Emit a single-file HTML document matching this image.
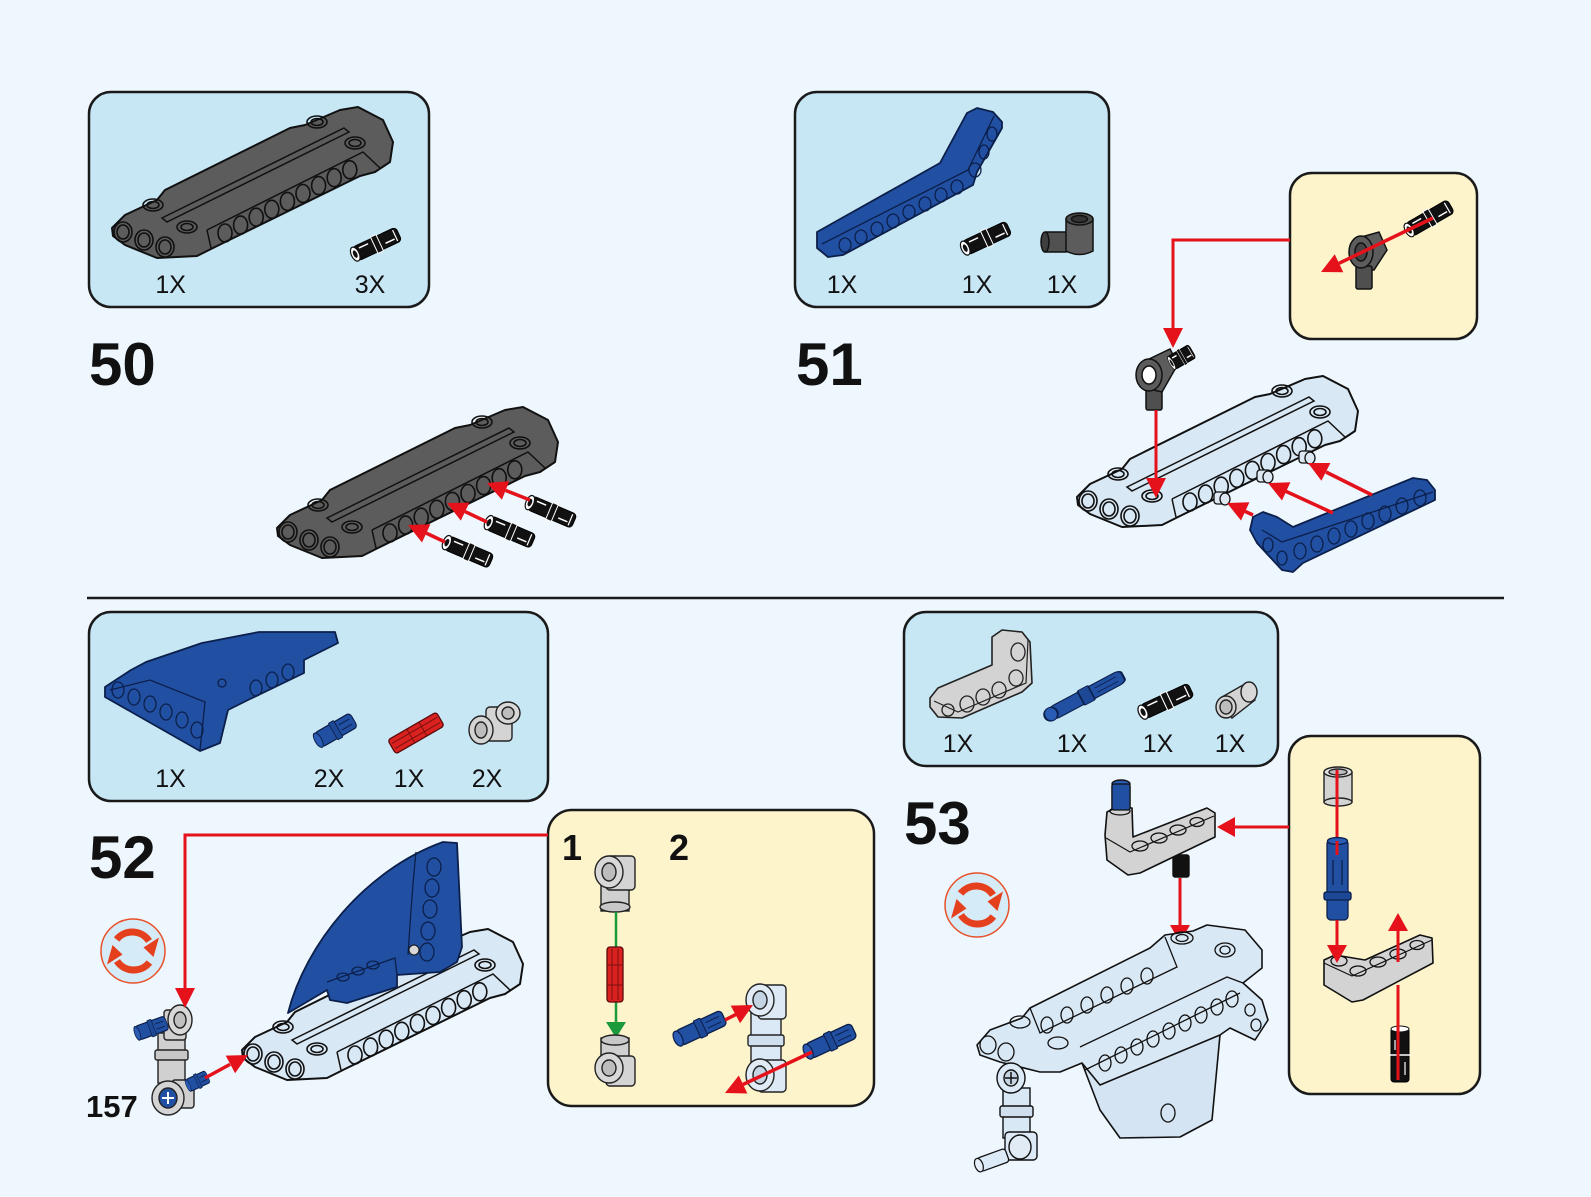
<!DOCTYPE html>
<html><head><meta charset="utf-8"><style>
html,body{margin:0;padding:0;background:#eef7fd;}
svg{display:block;}
text{font-family:"Liberation Sans",Arial,sans-serif;}
</style></head><body>
<svg width="1591" height="1197" viewBox="0 0 1591 1197" xmlns="http://www.w3.org/2000/svg">
<defs>
<g id="panel">
<polygon points="277,528 290,515 322,500 330,490 455,428 470,425 505,410 523,407 548,420 558,442 555,462 540,472 525,476 380,547 362,556 322,558 290,545 278,536" fill="currentColor" stroke="#111" stroke-width="2" stroke-linejoin="round"/>
<polyline points="372,530 528,452 545,468" fill="none" stroke="#111" stroke-width="1.5"/>
<line x1="372" y1="530" x2="376" y2="548" stroke="#111" stroke-width="1.5"/>
<polygon points="327,518 509,428 514,432 332,522" fill="none" stroke="#111" stroke-width="1.5"/>
<g fill="none" stroke="#111" stroke-width="1.6">
<ellipse cx="390" cy="533" rx="7" ry="9"/><ellipse cx="405.6" cy="525.1" rx="7" ry="9"/><ellipse cx="421.2" cy="517.2" rx="7" ry="9"/><ellipse cx="436.8" cy="509.3" rx="7" ry="9"/><ellipse cx="452.4" cy="501.4" rx="7" ry="9"/><ellipse cx="468" cy="493.5" rx="7" ry="9"/><ellipse cx="483.6" cy="485.6" rx="7" ry="9"/><ellipse cx="499.2" cy="477.7" rx="7" ry="9"/><ellipse cx="514.8" cy="469.8" rx="7" ry="9"/>
<ellipse cx="288" cy="532" rx="9" ry="10"/><ellipse cx="309" cy="540" rx="9" ry="10"/><ellipse cx="330" cy="547" rx="9" ry="10"/>
<ellipse cx="288" cy="532" rx="6" ry="7"/><ellipse cx="309" cy="540" rx="6" ry="7"/><ellipse cx="330" cy="547" rx="6" ry="7"/>
<ellipse cx="318" cy="505" rx="10" ry="6"/><ellipse cx="318" cy="505" rx="6" ry="3.5"/>
<ellipse cx="352" cy="527" rx="10" ry="6"/><ellipse cx="352" cy="527" rx="6" ry="3.5"/>
<ellipse cx="482" cy="422" rx="10" ry="6"/><ellipse cx="482" cy="422" rx="6" ry="3.5"/>
<ellipse cx="520" cy="443" rx="10" ry="6"/><ellipse cx="520" cy="443" rx="6" ry="3.5"/>
</g>
</g>
<g id="bpin">
<rect x="-24" y="-7.5" width="48" height="15" rx="4" fill="#111" stroke="#000"/>
<rect x="-3" y="-9" width="6" height="18" rx="1" fill="#111" stroke="#fff" stroke-width="1"/>
<ellipse cx="-24" cy="0" rx="4" ry="7.5" fill="#fff" stroke="#111" stroke-width="1.2"/>
<ellipse cx="-24" cy="0" rx="2" ry="4" fill="#111"/>
<line x1="-18" y1="-4" x2="-8" y2="-4" stroke="#fff" stroke-width="1.5"/>
<line x1="8" y1="3" x2="18" y2="3" stroke="#fff" stroke-width="1.5"/>
<line x1="20" y1="-6" x2="20" y2="6" stroke="#fff" stroke-width="1.2"/>
</g>
<g id="bluepin">
<rect x="-24" y="-8" width="48" height="16" rx="4" fill="#2150a3" stroke="#0c1f4a" stroke-width="1.3"/>
<rect x="-4" y="-9.5" width="7" height="19" rx="1" fill="#1d4896" stroke="#0c1f4a" stroke-width="1"/>
<ellipse cx="-24" cy="0" rx="4" ry="8" fill="#2a5cb5" stroke="#0c1f4a" stroke-width="1.2"/>
<line x1="6" y1="-3" x2="20" y2="-3" stroke="#0c1f4a" stroke-width="1"/>
<line x1="6" y1="3" x2="20" y2="3" stroke="#0c1f4a" stroke-width="1"/>
</g>
<g id="rot">
<circle cx="0" cy="0" r="32" fill="#d6ebf8" stroke="#e8502a" stroke-width="1.5"/>
<path d="M -16.4 -11.5 A 20 20 0 0 1 16 -10" fill="none" stroke="#e5401e" stroke-width="7"/>
<polygon points="10.5,-3.5 26,-13.5 20.5,6" fill="#e5401e"/>
<path d="M 16.4 11.5 A 20 20 0 0 1 -16 10" fill="none" stroke="#e5401e" stroke-width="7"/>
<polygon points="-10.5,3.5 -26,13.5 -20.5,-6" fill="#e5401e"/>
</g>
</defs>

<rect x="0" y="0" width="1591" height="1197" fill="#eef7fd"/>

<!-- ================= BOXES ================= -->
<rect x="89" y="92" width="340" height="215" rx="22" fill="#c8e7f5" stroke="#1a1a1a" stroke-width="2.5"/>
<rect x="795" y="92" width="314" height="215" rx="22" fill="#c8e7f5" stroke="#1a1a1a" stroke-width="2.5"/>
<rect x="1290" y="173" width="187" height="166" rx="22" fill="#fdf4cb" stroke="#1a1a1a" stroke-width="2.5"/>
<line x1="87" y1="598" x2="1504" y2="598" stroke="#1a1a1a" stroke-width="2.5"/>
<rect x="89" y="612" width="459" height="189" rx="22" fill="#c8e7f5" stroke="#1a1a1a" stroke-width="2.5"/>
<rect x="548" y="810" width="326" height="296" rx="24" fill="#fdf4cb" stroke="#1a1a1a" stroke-width="2.5"/>
<rect x="904" y="612" width="374" height="154" rx="22" fill="#c8e7f5" stroke="#1a1a1a" stroke-width="2.5"/>
<rect x="1289" y="736" width="191" height="358" rx="22" fill="#fdf4cb" stroke="#1a1a1a" stroke-width="2.5"/>

<!-- ================= STEP 50 ================= -->
<use href="#panel" transform="translate(-165,-300)" color="#5b5c5b"/>
<use href="#bpin" transform="translate(377,244) rotate(-25)"/>
<text x="170.7" y="293" font-size="25" text-anchor="middle" fill="#111">1X</text>
<text x="370" y="293" font-size="25" text-anchor="middle" fill="#111">3X</text>
<text x="89" y="385" font-size="60" font-weight="bold" fill="#111">50</text>

<use href="#panel" color="#5b5c5b"/>
<use href="#bpin" transform="translate(469,552) rotate(23)"/>
<use href="#bpin" transform="translate(511,532) rotate(23)"/>
<use href="#bpin" transform="translate(552,512) rotate(23)"/>
<g stroke="#e5121b" stroke-width="3.5" fill="#e5121b">
<line x1="445" y1="542" x2="426" y2="533"/><polygon points="408,525 430.4,524.3 422,542.5" stroke="none"/>
<line x1="487" y1="522" x2="465" y2="511.6"/><polygon points="447,503 469.4,502.6 460.8,520.6" stroke="none"/>
<line x1="530" y1="500" x2="505.6" y2="490.4"/><polygon points="487,483 509.3,481.1 501.9,499.7" stroke="none"/>
</g>

<!-- ================= STEP 51 ================= -->
<!-- parts box -->
<polygon points="817,232 940,163 967,113 977,108 993,112 1002,122 1002,128 977,172 973,185 843,255 828,257 817,248" fill="#2150a3" stroke="#0c1f4a" stroke-width="1.8" stroke-linejoin="round"/>
<polyline points="822,244 968,170 994,116" fill="none" stroke="#0c1f4a" stroke-width="1.3"/>
<g fill="none" stroke="#0c1f4a" stroke-width="1.3">
<ellipse cx="845" cy="245" rx="6" ry="7"/><ellipse cx="861" cy="237" rx="6" ry="7"/><ellipse cx="877" cy="229" rx="6" ry="7"/><ellipse cx="893" cy="221" rx="6" ry="7"/><ellipse cx="909" cy="212" rx="6" ry="7"/><ellipse cx="925" cy="204" rx="6" ry="7"/><ellipse cx="941" cy="195" rx="6" ry="7"/><ellipse cx="957" cy="187" rx="6" ry="7"/><ellipse cx="975" cy="170" rx="6" ry="7"/><ellipse cx="984" cy="152" rx="5" ry="7"/><ellipse cx="992" cy="134" rx="5" ry="7"/>
</g>
<use href="#bpin" transform="translate(987,238) rotate(-25)"/>
<g stroke="#111" stroke-width="1.5">
<rect x="1043" y="232" width="26" height="20" rx="3" fill="#505150"/>
<ellipse cx="1045" cy="242" rx="4" ry="10" fill="#3e3e3e"/>
<path d="M1066 219 L1066 251 Q1079.5 258 1093 251 L1093 219 Z" fill="#5b5c5b"/>
<ellipse cx="1079.5" cy="219" rx="13.5" ry="6" fill="#4a4b4a"/>
<ellipse cx="1079.5" cy="219" rx="8" ry="3.5" fill="#333"/>
</g>
<text x="842" y="293" font-size="25" text-anchor="middle" fill="#111">1X</text>
<text x="977" y="293" font-size="25" text-anchor="middle" fill="#111">1X</text>
<text x="1062" y="293" font-size="25" text-anchor="middle" fill="#111">1X</text>
<text x="796" y="385" font-size="60" font-weight="bold" fill="#111">51</text>

<!-- yellow box 51 -->
<g stroke="#111" stroke-width="1.5">
<polygon points="1358,238 1379,232 1387,250 1374,270 1358,270" fill="#5b5c5b"/>
<rect x="1356" y="266" width="16" height="23" rx="2" fill="#4e4f4e"/>
<ellipse cx="1361" cy="252" rx="12" ry="16" fill="#5b5c5b"/>
<ellipse cx="1361" cy="252" rx="6" ry="9" fill="#444"/>
</g>
<use href="#bpin" transform="translate(1430,218) rotate(-30)"/>
<g stroke="#e5121b" stroke-width="3.5" fill="#e5121b">
<line x1="1433" y1="218" x2="1339" y2="263.3"/><polygon points="1321,272 1343.3,272.3 1334.7,254.3" stroke="none"/>
</g>

<!-- connector line -->
<g stroke="#e5121b" stroke-width="3" fill="none">
<polyline points="1290,240 1173,240 1173,330"/>
</g>
<polygon points="1173,348 1163,328 1183,328" fill="#e5121b"/>

<!-- light panel -->
<use href="#panel" transform="translate(800,-31)" color="#d9e8f5"/>
<g fill="#dde8f2" stroke="#111" stroke-width="1.3">
<rect x="1214" y="492" width="14" height="12" rx="3"/><ellipse cx="1225" cy="499" rx="5" ry="6"/>
<rect x="1257" y="470" width="14" height="12" rx="3"/><ellipse cx="1268" cy="477" rx="5" ry="6"/>
<rect x="1299" y="451" width="14" height="12" rx="3"/><ellipse cx="1310" cy="458" rx="5" ry="6"/>
</g>
<!-- step 51 gray connector -->
<g stroke="#111" stroke-width="1.5">
<rect x="1146" y="386" width="16" height="24" rx="2" fill="#4e4f4e"/>
<polygon points="1149,359 1170,349 1178,364 1162,392 1146,388" fill="#5b5c5b"/>
<ellipse cx="1149" cy="375" rx="13" ry="16" fill="#5b5c5b"/>
<ellipse cx="1149" cy="375" rx="7" ry="9" fill="#fff"/>
</g>
<g transform="translate(1182,357) rotate(-30) scale(0.5,1)"><use href="#bpin"/></g>
<g stroke="#e5121b" stroke-width="3" fill="#e5121b">
<line x1="1156" y1="410" x2="1156" y2="479"/><polygon points="1156,498 1146,478 1166,478" stroke="none"/>
</g>
<!-- blue L beam -->
<polygon points="1253,517 1263,512 1277,517 1293,527 1413,478 1427,480 1435,490 1435,500 1303,563 1293,572 1282,570 1257,543 1250,530" fill="#2150a3" stroke="#0c1f4a" stroke-width="1.8" stroke-linejoin="round"/>
<polyline points="1262,530 1282,542 1433,492" fill="none" stroke="#0c1f4a" stroke-width="1.3"/>
<g fill="none" stroke="#0c1f4a" stroke-width="1.3">
<ellipse cx="1268" cy="545" rx="5" ry="7"/><ellipse cx="1282" cy="558" rx="5" ry="7"/>
<ellipse cx="1300" cy="551" rx="6" ry="8"/><ellipse cx="1317" cy="544" rx="6" ry="8"/><ellipse cx="1334" cy="536" rx="6" ry="8"/><ellipse cx="1351" cy="529" rx="6" ry="8"/><ellipse cx="1368" cy="521" rx="6" ry="8"/><ellipse cx="1385" cy="514" rx="6" ry="8"/><ellipse cx="1402" cy="506" rx="6" ry="8"/><ellipse cx="1420" cy="498" rx="6" ry="8"/>
</g>
<g stroke="#e5121b" stroke-width="3.5" fill="#e5121b">
<line x1="1253" y1="515" x2="1245" y2="511.4"/><polygon points="1227,503 1249.4,502.3 1241,520.5" stroke="none"/>
<line x1="1333" y1="513" x2="1286" y2="491.4"/><polygon points="1268,483 1290.4,482.3 1282,500.5" stroke="none"/>
<line x1="1372" y1="495" x2="1326" y2="472"/><polygon points="1308,463 1330.4,463 1321.4,480.8" stroke="none"/>
</g>

<!-- ================= STEP 52 ================= -->
<!-- parts box -->
<polygon points="105,687 131,670 146,662 202,643 259,632 335,632 338,643 304,660 304,673 248,700 228,710 220,743 200,751 105,697" fill="#2150a3" stroke="#0c1f4a" stroke-width="1.8" stroke-linejoin="round"/>
<polyline points="110,690 150,680 205,702 200,750" fill="none" stroke="#0c1f4a" stroke-width="1.3"/>
<g fill="none" stroke="#0c1f4a" stroke-width="1.3">
<ellipse cx="118" cy="690" rx="6" ry="8"/><ellipse cx="134" cy="697" rx="6" ry="8"/><ellipse cx="150" cy="704" rx="6" ry="8"/><ellipse cx="166" cy="712" rx="6" ry="8"/><ellipse cx="182" cy="720" rx="6" ry="8"/><ellipse cx="197" cy="730" rx="6" ry="8"/>
<ellipse cx="256" cy="688" rx="6" ry="8"/><ellipse cx="272" cy="680" rx="6" ry="8"/><ellipse cx="288" cy="672" rx="6" ry="8"/>
<circle cx="222" cy="683" r="4"/>
</g>
<use href="#bluepin" transform="translate(336,730) rotate(-30) scale(0.85,1)"/>
<g transform="translate(416,733) rotate(-30)">
<rect x="-28" y="-8" width="56" height="16" rx="3" fill="#d9221f" stroke="#5a0a0a" stroke-width="1.3"/>
<line x1="-26" y1="-3" x2="26" y2="-3" stroke="#7a1010"/><line x1="-26" y1="3" x2="26" y2="3" stroke="#7a1010"/>
<line x1="-6" y1="-8" x2="-6" y2="8" stroke="#7a1010"/><line x1="8" y1="-8" x2="8" y2="8" stroke="#7a1010"/>
</g>
<g stroke="#222" stroke-width="1.4">
<rect x="486" y="707" width="26" height="34" rx="4" fill="#d4d4d4"/>
<ellipse cx="508" cy="713" rx="12" ry="11" fill="#d8d8d8"/><ellipse cx="508" cy="713" rx="6" ry="6" fill="#bdbdbd"/>
<ellipse cx="481" cy="730" rx="12" ry="14" fill="#d4d4d4"/><ellipse cx="481" cy="730" rx="6" ry="8" fill="#bdbdbd"/>
</g>
<text x="170.5" y="787" font-size="25" text-anchor="middle" fill="#111">1X</text>
<text x="329" y="787" font-size="25" text-anchor="middle" fill="#111">2X</text>
<text x="409" y="787" font-size="25" text-anchor="middle" fill="#111">1X</text>
<text x="487" y="787" font-size="25" text-anchor="middle" fill="#111">2X</text>
<text x="89" y="878" font-size="60" font-weight="bold" fill="#111">52</text>

<use href="#rot" transform="translate(133,951)"/>

<!-- main -->
<use href="#panel" transform="translate(-35,522)" color="#d9e8f5"/>
<path d="M288,1013 C305,945 365,870 443,842 L457,843 L462,947 L457,962 L440,972 L397,975 L397,987 L347,1003 L330,1000 L327,990 L300,1006 Z" fill="#2150a3" stroke="#0c1f4a" stroke-width="1.8" stroke-linejoin="round"/>
<path d="M416,852 C412,890 410,925 408,955" fill="none" stroke="#0c1f4a" stroke-width="1.3"/>
<g fill="none" stroke="#0c1f4a" stroke-width="1.3">
<ellipse cx="434" cy="867" rx="7" ry="9"/><ellipse cx="432" cy="888" rx="7" ry="9"/><ellipse cx="430" cy="909" rx="7" ry="9"/><ellipse cx="428" cy="931" rx="7" ry="9"/><ellipse cx="427" cy="952" rx="7" ry="9"/>
<polyline points="327,982 395,958 397,975"/>
<ellipse cx="343" cy="977" rx="6" ry="4"/><ellipse cx="358" cy="971" rx="6" ry="4"/><ellipse cx="373" cy="965" rx="6" ry="4"/>
</g>
<circle cx="414" cy="950" r="5" fill="#d8d8d8" stroke="#111"/>

<!-- connector assembly -->
<g stroke="#222" stroke-width="1.4">
<rect x="158" y="1033" width="27" height="50" fill="#d0d0d0"/>
<rect x="155" y="1050" width="33" height="10" rx="2" fill="#c8c8c8"/>
<rect x="164" y="1010" width="22" height="30" rx="3" fill="#d0d0d0"/>
<ellipse cx="180" cy="1020" rx="12" ry="15" fill="#d8d8d8"/><ellipse cx="180" cy="1020" rx="6" ry="8" fill="#c0c0c0"/>
</g>
<use href="#bluepin" transform="translate(152,1028) rotate(-20) scale(0.65,0.9)"/>
<g stroke="#222" stroke-width="1.4">
<rect x="172" y="1080" width="22" height="28" rx="3" fill="#d0d0d0"/>
<ellipse cx="168" cy="1098" rx="16" ry="17" fill="#d4d4d4"/>
<ellipse cx="168" cy="1098" rx="9" ry="10" fill="#2150a3"/>
</g>
<path d="M162 1098 H174 M168 1092 V1104" stroke="#fff" stroke-width="2"/>
<use href="#bluepin" transform="translate(198,1081) rotate(-25) scale(0.45,0.8)"/>
<text x="86" y="1117" font-size="31" font-weight="bold" fill="#111">157</text>

<g stroke="#e5121b" stroke-width="3" fill="none">
<polyline points="548,835 185,835 185,990"/>
</g>
<polygon points="185,1008 175,988 195,988" fill="#e5121b"/>
<g stroke="#e5121b" stroke-width="3.5" fill="#e5121b">
<line x1="205" y1="1078" x2="230" y2="1064.4"/><polygon points="248,1055 235.1,1073.2 225.7,1055.6" stroke="none"/>
</g>

<!-- yellow box 52 -->
<text x="562" y="860" font-size="36" font-weight="bold" fill="#111">1</text>
<text x="669" y="860" font-size="36" font-weight="bold" fill="#111">2</text>
<g stroke="#222" stroke-width="1.4">
<rect x="601" y="885" width="28" height="26" fill="#d0d0d0"/>
<ellipse cx="615" cy="907" rx="15" ry="5" fill="#c8c8c8"/>
<rect x="606" y="856" width="29" height="34" rx="4" fill="#d4d4d4"/>
<ellipse cx="609" cy="872" rx="14" ry="16" fill="#d8d8d8"/><ellipse cx="609" cy="872" rx="7" ry="9" fill="#bdbdbd"/>
</g>
<line x1="616" y1="912" x2="616" y2="1024" stroke="#1a9a3a" stroke-width="2.5"/>
<g>
<rect x="607" y="947" width="16" height="55" rx="3" fill="#d9221f" stroke="#5a0a0a" stroke-width="1.3"/>
<line x1="612" y1="949" x2="612" y2="1000" stroke="#7a1010"/><line x1="618" y1="949" x2="618" y2="1000" stroke="#7a1010"/>
<line x1="607" y1="965" x2="623" y2="965" stroke="#7a1010"/><line x1="607" y1="985" x2="623" y2="985" stroke="#7a1010"/>
</g>
<polygon points="616,1038 606,1022 626,1022" fill="#1a9a3a"/>
<g stroke="#222" stroke-width="1.4">
<rect x="601" y="1038" width="28" height="24" fill="#d0d0d0"/>
<ellipse cx="615" cy="1040" rx="14" ry="5" fill="#c8c8c8"/>
<rect x="606" y="1056" width="29" height="30" rx="4" fill="#d4d4d4"/>
<ellipse cx="609" cy="1068" rx="14" ry="15" fill="#d8d8d8"/><ellipse cx="609" cy="1068" rx="7" ry="8" fill="#bdbdbd"/>
</g>
<!-- step 2 connector -->
<g stroke="#222" stroke-width="1.4">
<rect x="751" y="1010" width="30" height="62" fill="#dbe8f5"/>
<rect x="748" y="1035" width="36" height="11" rx="2" fill="#d0dfee"/>
<rect x="758" y="985" width="28" height="34" rx="4" fill="#dde9f5"/>
<ellipse cx="760" cy="1000" rx="14" ry="16" fill="#e0ebf6"/><ellipse cx="760" cy="1000" rx="7" ry="9" fill="#c5d4e2"/>
<rect x="758" y="1060" width="28" height="32" rx="4" fill="#dde9f5"/>
<ellipse cx="760" cy="1075" rx="14" ry="16" fill="#e0ebf6"/><ellipse cx="760" cy="1075" rx="7" ry="9" fill="#c5d4e2"/>
</g>
<use href="#bluepin" transform="translate(701,1028) rotate(-25) scale(1.05,1)"/>
<use href="#bluepin" transform="translate(831,1041) rotate(-25) scale(1.05,1)"/>
<g stroke="#e5121b" stroke-width="3.5" fill="#e5121b">
<line x1="725" y1="1020" x2="736" y2="1014.4"/><polygon points="753,1005 740.1,1023.2 730.7,1005.6" stroke="none"/>
<line x1="812" y1="1052" x2="743" y2="1084.5"/><polygon points="725,1093 747.4,1093.5 738.8,1075.5" stroke="none"/>
</g>

<!-- ================= STEP 53 ================= -->
<!-- parts box -->
<polygon points="930,698 938,688 992,665 992,637 1002,630 1022,632 1030,642 1032,683 1022,692 962,718 938,717 930,707" fill="#d3d3d3" stroke="#222" stroke-width="1.6" stroke-linejoin="round"/>
<polyline points="934,701 958,712 1026,683 1028,640" fill="none" stroke="#222" stroke-width="1.2"/>
<g fill="none" stroke="#222" stroke-width="1.3">
<ellipse cx="948" cy="710" rx="6" ry="6"/><ellipse cx="967" cy="704" rx="7" ry="8"/><ellipse cx="983" cy="697" rx="7" ry="8"/><ellipse cx="999" cy="690" rx="7" ry="8"/><ellipse cx="1016" cy="678" rx="7" ry="8"/><ellipse cx="1018" cy="652" rx="7" ry="9"/>
</g>
<use href="#bluepin" transform="translate(1087,695) rotate(-28) scale(1.7,0.85)"/>
<use href="#bpin" transform="translate(1167,701) rotate(-25) scale(1.1,1)"/>
<g stroke="#222" stroke-width="1.4">
<polygon points="1222,697 1243,685 1255,700 1232,718" fill="#d3d3d3"/>
<ellipse cx="1249" cy="692" rx="8" ry="10" fill="#d8d8d8"/>
<ellipse cx="1226" cy="707" rx="10" ry="11" fill="#d3d3d3"/>
<ellipse cx="1226" cy="707" rx="6" ry="7" fill="#bdbdbd"/>
</g>
<text x="958" y="752" font-size="25" text-anchor="middle" fill="#111">1X</text>
<text x="1072" y="752" font-size="25" text-anchor="middle" fill="#111">1X</text>
<text x="1158" y="752" font-size="25" text-anchor="middle" fill="#111">1X</text>
<text x="1230" y="752" font-size="25" text-anchor="middle" fill="#111">1X</text>
<text x="904" y="844" font-size="60" font-weight="bold" fill="#111">53</text>

<use href="#rot" transform="translate(977,905)"/>

<!-- L beam with pins -->
<g stroke="#111" stroke-width="1.4">
<rect x="1112" y="784" width="18" height="28" rx="2" fill="#2150a3"/>
<ellipse cx="1121" cy="784" rx="9" ry="4" fill="#2a5cb5"/>
<rect x="1173" y="855" width="16" height="22" rx="2" fill="#111"/>
</g>
<polygon points="1105,835 1107,812 1117,807 1132,808 1133,837 1207,808 1215,813 1215,837 1140,873 1128,875 1107,860" fill="#d3d3d3" stroke="#111" stroke-width="1.6" stroke-linejoin="round"/>
<polyline points="1106,838 1130,852 1214,816" fill="none" stroke="#111" stroke-width="1.2"/>
<g fill="none" stroke="#111" stroke-width="1.3">
<ellipse cx="1120" cy="811" rx="10" ry="4"/>
<ellipse cx="1140" cy="846" rx="8" ry="5"/><ellipse cx="1159" cy="838" rx="8" ry="5"/><ellipse cx="1178" cy="830" rx="8" ry="5"/><ellipse cx="1197" cy="822" rx="7" ry="4.5"/>
</g>
<rect x="1112" y="784" width="18" height="26" rx="2" fill="#2150a3" stroke="#111" stroke-width="1.2"/>
<g stroke="#e5121b" stroke-width="3" fill="#e5121b">
<line x1="1289" y1="827" x2="1235" y2="827"/><polygon points="1217,827 1235,817 1235,837" stroke="none"/>
<line x1="1180" y1="878" x2="1180" y2="926"/><polygon points="1180,943 1170,925 1190,925" stroke="none"/>
</g>

<!-- big light assembly -->
<g stroke="#111" stroke-width="1.6" stroke-linejoin="round">
<polygon points="1082,1063 1100,1110 1120,1138 1180,1137 1212,1120 1220,1035 1240,1000 1180,1010" fill="#d4e4f3"/>
<polygon points="977,1045 990,1030 1022,1018 1030,1008 1150,948 1165,935 1193,931 1207,925 1245,930 1262,950 1262,968 1243,983 1262,1000 1268,1020 1255,1040 1230,1028 1220,1035 1100,1085 1082,1063 1060,1072 1040,1072 1000,1062 980,1055" fill="#d9e8f5"/>
</g>
<g fill="none" stroke="#111" stroke-width="1.3">
<polyline points="1030,1008 1040,1033 1177,967 1165,937"/>
<polyline points="1080,1047 1227,977 1243,983"/>
<polyline points="1085,1070 1240,993"/>
<ellipse cx="1047" cy="1025" rx="6" ry="8"/><ellipse cx="1067" cy="1015" rx="6" ry="8"/><ellipse cx="1087" cy="1005" rx="6" ry="8"/><ellipse cx="1107" cy="995" rx="6" ry="8"/><ellipse cx="1127" cy="986" rx="6" ry="8"/><ellipse cx="1147" cy="976" rx="6" ry="8"/>
<ellipse cx="1105" cy="1063" rx="6" ry="8"/><ellipse cx="1121" cy="1055" rx="6" ry="8"/><ellipse cx="1137" cy="1047" rx="6" ry="8"/><ellipse cx="1153" cy="1039" rx="6" ry="8"/><ellipse cx="1169" cy="1031" rx="6" ry="8"/><ellipse cx="1185" cy="1023" rx="6" ry="8"/><ellipse cx="1201" cy="1015" rx="6" ry="8"/><ellipse cx="1217" cy="1007" rx="6" ry="8"/><ellipse cx="1232" cy="999" rx="6" ry="8"/>
<ellipse cx="1182" cy="938" rx="11" ry="6"/><ellipse cx="1182" cy="938" rx="6" ry="3.5"/>
<ellipse cx="1225" cy="950" rx="10" ry="7"/><ellipse cx="1225" cy="950" rx="5" ry="4"/>
<ellipse cx="1020" cy="1022" rx="10" ry="6"/><ellipse cx="1058" cy="1043" rx="10" ry="6"/>
<ellipse cx="988" cy="1045" rx="8" ry="9"/><ellipse cx="1006" cy="1052" rx="8" ry="9"/>
<ellipse cx="1168" cy="1113" rx="7" ry="9"/>
<ellipse cx="1250" cy="1010" rx="5" ry="6"/><ellipse cx="1256" cy="1025" rx="5" ry="6"/>
</g>
<!-- leg -->
<g stroke="#111" stroke-width="1.4">
<rect x="1003" y="1088" width="27" height="50" fill="#d9e8f5"/>
<rect x="1000" y="1106" width="33" height="11" rx="2" fill="#cfdfee"/>
<ellipse cx="1011" cy="1078" rx="14" ry="15" fill="#dce9f6"/>
<ellipse cx="1011" cy="1078" rx="7" ry="8" fill="#c5d4e2"/>
<rect x="1005" y="1132" width="32" height="28" rx="4" fill="#dce9f6"/>
<ellipse cx="1020" cy="1147" rx="11" ry="12" fill="#e0ebf6"/>
</g>
<g transform="translate(993,1160) rotate(-20)">
<rect x="-15" y="-7" width="30" height="14" rx="3" fill="#dce9f6" stroke="#111" stroke-width="1.3"/>
<ellipse cx="-15" cy="0" rx="4" ry="7" fill="#e6eff8" stroke="#111" stroke-width="1.2"/>
</g>
<path d="M1005 1078 H1017 M1011 1072 V1084" stroke="#111" stroke-width="1.5"/>

<!-- yellow box 53 -->
<g stroke="#222" stroke-width="1.4">
<rect x="1324" y="772" width="28" height="30" fill="#d3d3d3"/>
<ellipse cx="1338" cy="802" rx="14" ry="4" fill="#d3d3d3"/>
<ellipse cx="1338" cy="772" rx="14" ry="5" fill="#e0e0e0"/>
<ellipse cx="1338" cy="772" rx="9" ry="3" fill="#bdbdbd"/>
</g>
<line x1="1337" y1="770" x2="1337" y2="946" stroke="#e5121b" stroke-width="3"/>
<g stroke="#0c1f4a" stroke-width="1.3">
<rect x="1327" y="840" width="21" height="80" rx="4" fill="#2150a3"/>
<rect x="1324" y="892" width="27" height="8" rx="2" fill="#1d4896"/>
<line x1="1333" y1="860" x2="1333" y2="885"/><line x1="1342" y1="860" x2="1342" y2="885"/>
<ellipse cx="1337.5" cy="841" rx="10" ry="3.5" fill="#2a5cb5"/>
</g>
<line x1="1337" y1="841" x2="1337" y2="855" stroke="#e5121b" stroke-width="3"/>
<line x1="1337" y1="920" x2="1337" y2="946" stroke="#e5121b" stroke-width="3"/>
<polygon points="1324,960 1335,955 1365,960 1420,935 1432,938 1433,963 1363,1000 1352,1002 1324,985" fill="#d3d3d3" stroke="#111" stroke-width="1.6" stroke-linejoin="round"/>
<polyline points="1324,963 1352,976 1432,940" fill="none" stroke="#111" stroke-width="1.2"/>
<g fill="none" stroke="#111" stroke-width="1.3">
<ellipse cx="1339" cy="961" rx="8" ry="5"/><ellipse cx="1358" cy="971" rx="8" ry="5"/><ellipse cx="1378" cy="962" rx="8" ry="5"/><ellipse cx="1398" cy="954" rx="8" ry="5"/><ellipse cx="1417" cy="945" rx="7" ry="4.5"/>
</g>
<polygon points="1337,963 1327,945 1347,945" fill="#e5121b"/>
<g>
<rect x="1391" y="1028" width="18" height="54" rx="3" fill="#111" stroke="#000"/>
<ellipse cx="1400" cy="1029" rx="9" ry="3" fill="#fff" stroke="#111"/>
<line x1="1389" y1="1055" x2="1411" y2="1055" stroke="#fff" stroke-width="1.5"/>
<line x1="1395" y1="1040" x2="1395" y2="1050" stroke="#fff" stroke-width="1.2"/>
<line x1="1405" y1="1062" x2="1405" y2="1075" stroke="#fff" stroke-width="1.2"/>
</g>
<g stroke="#e5121b" stroke-width="3" fill="#e5121b">
<line x1="1398" y1="1080" x2="1398" y2="985"/>
<line x1="1398" y1="962" x2="1398" y2="930"/>
<polygon points="1398,913 1388,931 1408,931" stroke="none"/>
</g>
</svg>
</body></html>
